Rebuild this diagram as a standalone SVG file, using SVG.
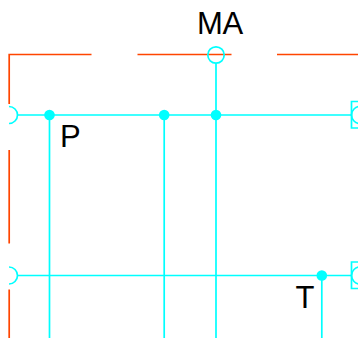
<svg xmlns="http://www.w3.org/2000/svg" width="358" height="338" viewBox="0 0 358 338">
<style>
.b{fill:none;stroke:#ff4500;stroke-width:1.7}
.w{fill:none;stroke:#00ffff;stroke-width:1.7}
.d{fill:#00ffff;stroke:none}
.t{font-family:"Liberation Sans",Arial,sans-serif;font-size:31px;fill:#000}
</style>
<rect width="358" height="338" fill="#fff"/>
<g id="wall">
<path class="b" d="M91.500 54.500H9.200V104M9.200 150V243.500M9.200 289.500V338M137.500 54.500H231.500M277 54.500H358"/>
</g>
<g id="connectors">
<path class="w" d="M17.500 115H351M17.500 275.500H351M49.500 115V338M164.200 115V338M216 63.500V338M321.800 275.500V338"/>
</g>
<g id="node-MA"><circle class="w" cx="216" cy="55" r="8.200"/><text class="t" x="197 222.500" y="34">MA</text></g>
<g id="node-P"><circle class="d" cx="49.500" cy="115" r="5.300"/><text class="t" x="60" y="147">P</text></g>
<g id="node-T"><circle class="d" cx="321.800" cy="275.500" r="5.300"/><text class="t" x="295.500" y="308">T</text></g>
<g id="junction-1"><circle class="d" cx="164.200" cy="115" r="5.300"/></g>
<g id="junction-2"><circle class="d" cx="216" cy="115" r="5.300"/></g>
<g id="left-1"><path class="w" d="M9 106.500A8.500 8.500 0 0 1 9 123.500"/></g>
<g id="left-2"><path class="w" d="M9 267A8.500 8.500 0 0 1 9 284"/></g>
<g id="right-1"><path class="w" d="M358 101.500H351.500V128H358"/><circle class="w" cx="360" cy="115" r="8.500"/></g>
<g id="right-2"><path class="w" d="M358 262H351.500V288.500H358"/><circle class="w" cx="360" cy="275.500" r="8.500"/></g>
</svg>
